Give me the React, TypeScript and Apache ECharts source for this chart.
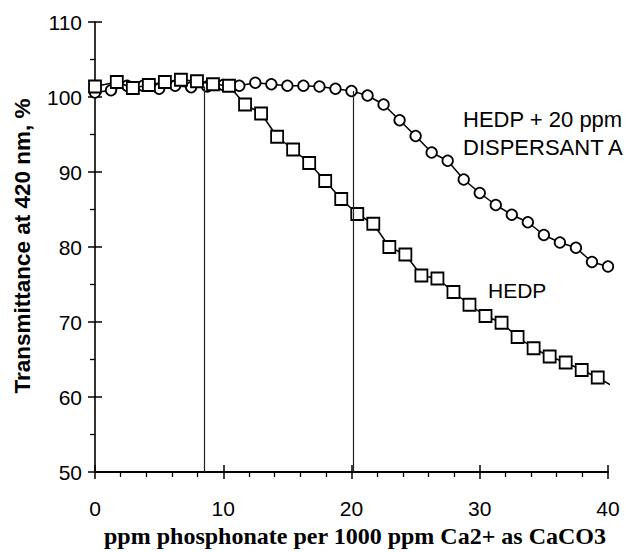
import React, { useEffect, useRef } from "react";
import * as echarts from "echarts";

// HEDP + 20 ppm DISPERSANT A (circles)
const dispersantX = [0, 1.25, 2.5, 3.75, 5, 6.25, 7.5, 8.75, 10, 11.25, 12.5, 13.75, 15, 16.25, 17.5, 18.75, 20, 21.25, 22.5, 23.75, 25, 26.25, 27.5, 28.75, 30, 31.25, 32.5, 33.75, 35, 36.25, 37.5, 38.75, 40];
const dispersantY = [100.6, 100.9, 101.5, 101.5, 101.1, 101.5, 101.3, 101.4, 101.6, 101.5, 101.9, 101.7, 101.5, 101.5, 101.4, 101.1, 100.8, 100.2, 99.0, 96.9, 94.8, 92.6, 91.5, 89.0, 87.2, 85.6, 84.3, 83.3, 81.6, 80.6, 79.9, 78.0, 77.4];

// HEDP alone (squares)
const hedpX = [0, 1.7, 2.95, 4.2, 5.45, 6.7, 7.95, 9.2, 10.45, 11.7, 12.95, 14.2, 15.45, 16.7, 17.95, 19.2, 20.45, 21.7, 22.95, 24.2, 25.45, 26.7, 27.95, 29.2, 30.45, 31.7, 32.95, 34.2, 35.45, 36.7, 37.95, 39.2];
const hedpY = [101.4, 102.0, 101.2, 101.6, 102.0, 102.3, 102.1, 101.7, 101.5, 99.0, 97.8, 94.7, 93.0, 91.2, 88.8, 86.4, 84.4, 83.1, 80.0, 79.0, 76.2, 75.8, 74.0, 72.3, 70.8, 69.9, 68.0, 66.5, 65.4, 64.6, 63.6, 62.6];
const hedpTail = [40.3, 61.5];

// vertical threshold lines
const thresholdX = [8.55, 20.15];
const thresholdTop = [101.4, 100.8];

const xTicks = { min: 0, max: 40, interval: 10 };
const yTicks = { min: 50, max: 110, interval: 10 };

const yTitle = "Transmittance at 420 nm, %";
const xTitle = "ppm phosphonate per 1000 ppm Ca2+ as CaCO3";
const notes = ["HEDP + 20 ppm", "DISPERSANT A", "HEDP"];

const SANS = '"Liberation Sans", Arial, sans-serif';
const SERIF = '"Liberation Serif", "Times New Roman", serif';

export default function App() {
  const ref = useRef<HTMLDivElement>(null);
  useEffect(() => {
    if (!ref.current) return;
    const chart = echarts.init(ref.current, null, { renderer: "svg" });
    const dispData = dispersantX.map((x, i) => [x, dispersantY[i]]);
    const hedpData: any[] = hedpX.map((x, i) => [x, hedpY[i]]);
    hedpData.push({ value: hedpTail, symbol: "none" });

    const baseX = {
      type: "value",
      min: xTicks.min,
      max: xTicks.max,
      interval: xTicks.interval,
      splitLine: { show: false },
    };
    const baseY = {
      type: "value",
      min: yTicks.min,
      max: yTicks.max,
      interval: yTicks.interval,
      splitLine: { show: false },
    };

    chart.setOption({
      animation: false,
      grid: { left: 95, right: 18, top: 22, bottom: 80 },
      xAxis: [
        {
          ...baseX,
          position: "bottom",
          axisLine: { show: true, lineStyle: { color: "#000", width: 2 } },
          axisTick: { show: true, inside: false, length: 7, lineStyle: { color: "#000", width: 1.5 } },
          minorTick: { show: true, splitNumber: 5, length: 5, lineStyle: { color: "#000", width: 1.3 } },
          axisLabel: { color: "#000", fontSize: 21, fontFamily: SANS, margin: 26 },
        },
        {
          ...baseX,
          position: "bottom",
          axisLine: { show: false },
          axisTick: { show: true, inside: true, length: 7, lineStyle: { color: "#000", width: 1.5 } },
          axisLabel: { show: false },
        },
      ],
      yAxis: [
        {
          ...baseY,
          position: "left",
          axisLine: { show: true, lineStyle: { color: "#000", width: 1.6 } },
          axisTick: { show: true, inside: false, length: 7, lineStyle: { color: "#000", width: 1.5 } },
          minorTick: { show: true, splitNumber: 2, length: 5, lineStyle: { color: "#000", width: 1.3 } },
          axisLabel: { color: "#000", fontSize: 21, fontFamily: SANS, margin: 13 },
        },
        {
          ...baseY,
          position: "left",
          axisLine: { show: false },
          axisTick: { show: true, inside: true, length: 7, lineStyle: { color: "#000", width: 1.5 } },
          axisLabel: { show: false },
        },
      ],
      series: [
        {
          type: "line",
          name: "HEDP + 20 ppm DISPERSANT A",
          xAxisIndex: 0,
          yAxisIndex: 0,
          data: dispData,
          symbol: "circle",
          symbolSize: 10.5,
          showAllSymbol: true,
          lineStyle: { color: "#000", width: 1.5 },
          itemStyle: { color: "#fff", borderColor: "#000", borderWidth: 1.8 },
          z: 2,
          markLine: {
            silent: true,
            symbol: "none",
            label: { show: false },
            lineStyle: { color: "#222", width: 1.2, type: "solid" },
            data: thresholdX.map((x, i) => [
              { coord: [x, yTicks.min] },
              { coord: [x, thresholdTop[i]] },
            ]),
          },
        },
        {
          type: "line",
          name: "HEDP",
          xAxisIndex: 0,
          yAxisIndex: 0,
          data: hedpData,
          clip: false,
          symbol: "rect",
          symbolSize: 12,
          showAllSymbol: true,
          lineStyle: { color: "#000", width: 1.5 },
          itemStyle: { color: "#fff", borderColor: "#000", borderWidth: 1.8 },
          z: 3,
        },
      ],
      graphic: [
        {
          type: "text",
          x: 22,
          y: 246,
          rotation: Math.PI / 2,
          style: { text: yTitle, font: `bold 22.5px ${SANS}`, fill: "#000", textAlign: "center", textVerticalAlign: "middle" },
        },
        {
          type: "text",
          x: 355,
          y: 536,
          style: { text: xTitle, font: `bold 24px ${SERIF}`, fill: "#000", textAlign: "center", textVerticalAlign: "middle" },
        },
        {
          type: "text",
          x: 463,
          y: 119,
          style: { text: notes[0], font: `22px ${SANS}`, fill: "#000", textAlign: "left", textVerticalAlign: "middle" },
        },
        {
          type: "text",
          x: 463,
          y: 147,
          style: { text: notes[1], font: `22px ${SANS}`, fill: "#000", textAlign: "left", textVerticalAlign: "middle" },
        },
        {
          type: "text",
          x: 488,
          y: 290,
          style: { text: notes[2], font: `21px ${SANS}`, fill: "#000", textAlign: "left", textVerticalAlign: "middle" },
        },
      ],
    });
    return () => chart.dispose();
  }, []);
  return (
    <div
      ref={ref}
      style={{ position: "fixed", left: 0, top: 0, width: 626, height: 552, background: "#fff" }}
    />
  );
}
